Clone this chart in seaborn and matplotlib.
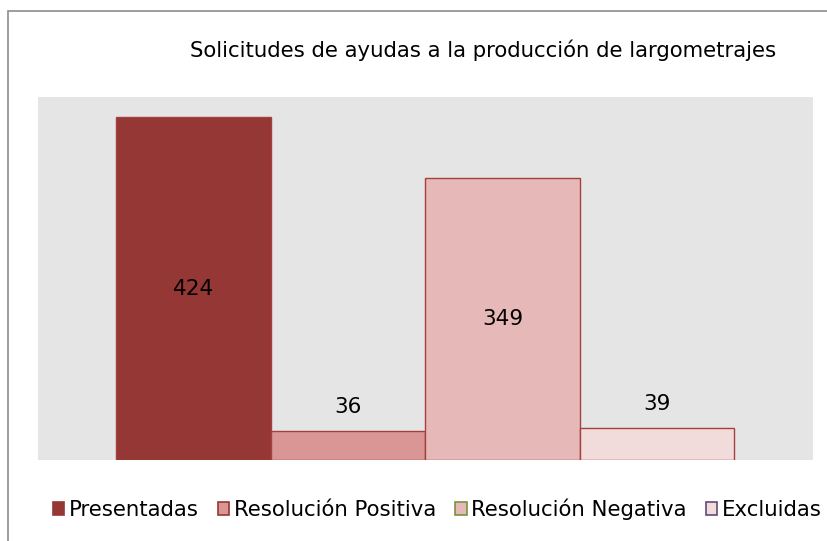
import pandas as pd
import numpy as np
import matplotlib
matplotlib.use("Agg")
import matplotlib.pyplot as plt
import seaborn as sns
from matplotlib.patches import Rectangle, Patch

# ==========================================
# Data
# ==========================================

categories = [
    "Presentadas",
    "Resolución Positiva",
    "Resolución Negativa",
    "Excluidas"
]

values = [424, 36, 349, 39]

bar_colors = ["#953735", "#D99694", "#E6B9B8", "#F2DCDB"]

legend_faces = ["#953735", "#D99694", "#E6B9B8", "#F2DCDB"]
legend_edges = ["#953735", "#953735", "#77933C", "#604A7B"]

title = "Solicitudes de ayudas a la producción de largometrajes"

df = pd.DataFrame({
    "categoria": categories,
    "valor": values
})

# ==========================================
# Figure
# ==========================================

sns.set_style("white")
plt.rcParams["font.family"] = ["DejaVu Sans"]
plt.rcParams["text.color"] = "black"

W, H = 828, 541
fig = plt.figure(figsize=(W / 100, H / 100), dpi=100)

# plot area in pixels: x 38..813, y 97..460
ax = fig.add_axes([38 / W, 1 - 460 / H, (813 - 38) / W, (460 - 97) / H])
ax.set_facecolor("#E5E5E5")

sns.barplot(
    data=df,
    x="categoria",
    y="valor",
    hue="categoria",
    order=categories,
    hue_order=categories,
    palette=bar_colors,
    saturation=1,
    width=1.0,
    edgecolor="#A5403E",
    linewidth=1.0,
    dodge=False,
    legend=False,
    ax=ax
)

ax.set_xlim(-1.005, 4.01)
ax.set_ylim(0, 449)

# value labels
for i, v in enumerate(values):
    if v > 100:
        ax.text(i, v / 2, str(v), ha="center", va="center", fontsize=15.5, color="black")
    else:
        ax.text(i, v + 30, str(v), ha="center", va="center", fontsize=15.5, color="black")

ax.set_xlabel("")
ax.set_ylabel("")
ax.set_xticks([])
ax.set_yticks([])
for s in ax.spines.values():
    s.set_visible(False)

# title
fig.text(483 / W, 1 - 50 / H, title, ha="center", va="center", fontsize=15.3, color="black")

# legend
handles = [
    Patch(facecolor=f, edgecolor=e, linewidth=1.2, label=c)
    for c, f, e in zip(categories, legend_faces, legend_edges)
]
leg = fig.legend(
    handles=handles,
    loc="center",
    bbox_to_anchor=(437 / W, 1 - 509 / H),
    ncol=4,
    frameon=False,
    fontsize=15.3,
    handlelength=0.55,
    handleheight=0.55,
    handletextpad=0.2,
    columnspacing=0.9,
    borderaxespad=0
)
for t in leg.get_texts():
    t.set_color("black")

# outer chart border
fig.patches.append(
    Rectangle(
        (8 / W, -0.1),
        1.2,
        1 - 11 / H + 0.1,
        transform=fig.transFigure,
        fill=False,
        edgecolor="#8C8C8C",
        linewidth=1.2
    )
)

plt.savefig("out.png", dpi=100)
